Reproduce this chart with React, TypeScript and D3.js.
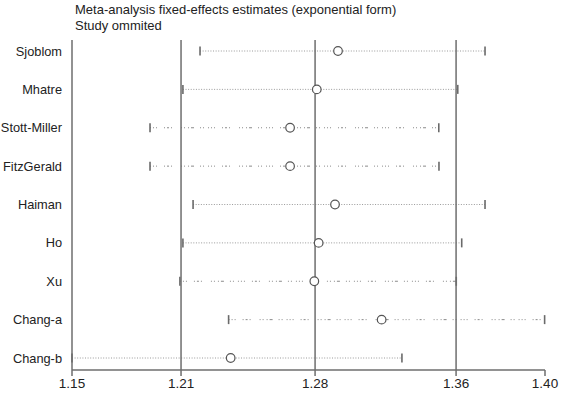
import React from 'react';
import * as d3 from 'd3';

const studies = ['Sjoblom', 'Mhatre', 'Stott-Miller', 'FitzGerald', 'Haiman', 'Ho', 'Xu', 'Chang-a', 'Chang-b'];
const estimates = [1.2935, 1.2822, 1.268, 1.268, 1.2919, 1.2832, 1.2809, 1.3167, 1.2364];
const lowerCI = [1.2201, 1.211, 1.1935, 1.1935, 1.2164, 1.211, 1.2094, 1.2353, 1.152];
const upperCI = [1.3717, 1.3572, 1.3471, 1.3472, 1.3717, 1.3593, 1.3564, 1.4034, 1.3275];
const sparseLine = [false, false, true, true, false, false, true, true, false];
const axisTicks = [1.152, 1.21, 1.2813, 1.3563, 1.4036];
const refLines = [1.152, 1.21, 1.2813, 1.3563];
const titleLines = ['Meta-analysis fixed-effects estimates (exponential form)', 'Study ommited'];

const W = 562;
const H = 402;
const FONT = 'Arial, "Liberation Sans", sans-serif';

export default function App() {
  const x = d3.scaleLinear().domain([axisTicks[0], axisTicks[axisTicks.length - 1]]).range([72, 545]);
  const y = d3.scalePoint<string>().domain(studies).range([51, 358]);
  const top = 40;
  const axisY = 370;
  const fmt = d3.format('.2f');
  const sparseDash = '1,2,1,2,1,7,1,2,2,2,1,9,1,2,1,3,1,2,3,6,1,2,1,4';

  return (
    <svg width={W} height={H} style={{ position: 'absolute', left: 0, top: 0, background: '#fff' }}>
      <rect x={0} y={0} width={W} height={H} fill="#fff" />
      {titleLines.map((t, i) => (
        <text key={t} x={75} y={14 + i * 15.5} fontFamily={FONT} fontSize={13} fill="#222">
          {t}
        </text>
      ))}
      {/* CI lines */}
      {studies.map((s, i) => {
        const yy = y(s) as number;
        return (
          <g key={s}>
            <line
              x1={x(lowerCI[i])}
              x2={x(upperCI[i])}
              y1={yy}
              y2={yy}
              stroke={sparseLine[i] ? '#8a8a8a' : '#9a9a9a'}
              strokeWidth={1}
              strokeDasharray={sparseLine[i] ? sparseDash : '1,1.6'}
            />
            <line x1={x(lowerCI[i])} x2={x(lowerCI[i])} y1={yy - 4.5} y2={yy + 4.5} stroke="#6a6a6a" strokeWidth={1.6} />
            <line x1={x(upperCI[i])} x2={x(upperCI[i])} y1={yy - 4.5} y2={yy + 4.5} stroke="#6a6a6a" strokeWidth={1.6} />
            <text x={62} y={yy} textAnchor="end" dominantBaseline="central" fontFamily={FONT} fontSize={12.8} fill="#222">
              {s}
            </text>
          </g>
        );
      })}
      {/* reference vertical lines */}
      {refLines.map((v) => (
        <line key={v} x1={x(v)} x2={x(v)} y1={top} y2={axisY} stroke="#6e6e6e" strokeWidth={1.5} />
      ))}
      {/* point estimates */}
      {studies.map((s, i) => (
        <circle key={s} cx={x(estimates[i])} cy={y(s) as number} r={4.3} fill="#fff" stroke="#555" strokeWidth={1.2} />
      ))}
      {/* axis */}
      <line x1={x(axisTicks[0])} x2={x(axisTicks[axisTicks.length - 1])} y1={axisY} y2={axisY} stroke="#6e6e6e" strokeWidth={1.5} />
      {axisTicks.map((v) => (
        <g key={v}>
          <line x1={x(v)} x2={x(v)} y1={axisY} y2={axisY + 6} stroke="#6e6e6e" strokeWidth={1.5} />
          <text x={x(v)} y={388} textAnchor="middle" fontFamily={FONT} fontSize={13.5} fill="#222">
            {fmt(v)}
          </text>
        </g>
      ))}
    </svg>
  );
}
